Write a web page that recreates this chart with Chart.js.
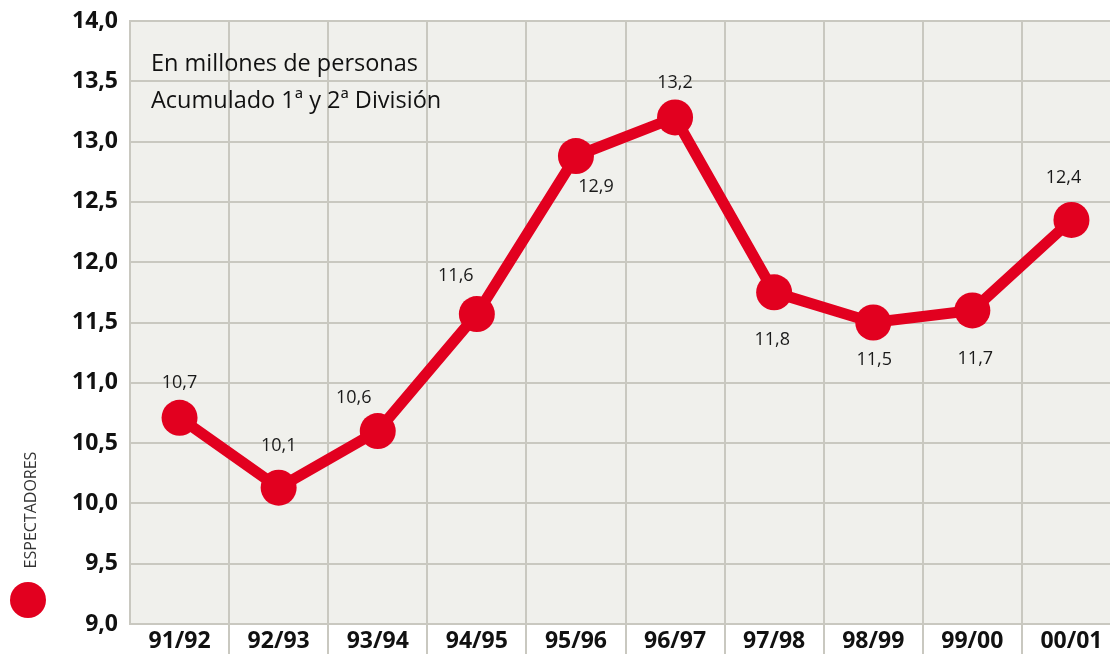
<!DOCTYPE html>
<html>
<head>
<meta charset="utf-8">
<script src="https://cdn.jsdelivr.net/npm/chart.js@4.4.1/dist/chart.umd.min.js"></script>
<style>
html,body{margin:0;padding:0;background:#fff;overflow:hidden;}
#c{display:block;}
</style>
</head>
<body>
<canvas id="c" width="1121" height="654" style="width:1121px;height:654px"></canvas>
<script>
const categories = ['91/92','92/93','93/94','94/95','95/96','96/97','97/98','98/99','99/00','00/01'];
const espectadores = [10.71, 10.13, 10.6, 11.57, 12.88, 13.2, 11.75, 11.5, 11.6, 12.35];
const valueLabels = ['10,7','10,1','10,6','11,6','12,9','13,2','11,8','11,5','11,7','12,4'];
const yTicks = [9.0, 9.5, 10.0, 10.5, 11.0, 11.5, 12.0, 12.5, 13.0, 13.5, 14.0];
const noteLines = ['En millones de personas', 'Acumulado 1ª y 2ª División'];
const legendLabel = 'ESPECTADORES';

const labelOffsets = [[0,-35],[0,-42],[-24,-33],[-21,-38],[20,31],[0,-35],[-2,48],[1,37],[3,48],[-8,-42]];

const RED = '#e2001f';
const GRID = '#c9c8c0';

const bgPlugin = {
  id: 'bg',
  beforeDraw(chart) {
    const {ctx, chartArea: a} = chart;
    ctx.save();
    ctx.fillStyle = '#f0f0ec';
    ctx.fillRect(a.left, a.top, a.right - a.left, a.bottom - a.top);
    ctx.restore();
  }
};

const extrasPlugin = {
  id: 'extras',
  afterDatasetsDraw(chart) {
    const {ctx, chartArea: a} = chart;
    const meta = chart.getDatasetMeta(0);
    ctx.save();
    ctx.fillStyle = '#1a1a1a';
    ctx.font = '18px "Open Sans"';
    ctx.textAlign = 'center';
    ctx.textBaseline = 'middle';
    meta.data.forEach((pt, i) => {
      const [dx, dy] = labelOffsets[i];
      ctx.fillText(valueLabels[i], pt.x + dx, pt.y + dy);
    });
    ctx.textAlign = 'left';
    ctx.textBaseline = 'alphabetic';
    ctx.font = '23.5px "Open Sans"';
    ctx.fillStyle = '#111';
    ctx.fillText(noteLines[0], a.left + 21, 71);
    ctx.fillText(noteLines[1], a.left + 21, 108);
    ctx.fillStyle = RED;
    ctx.beginPath();
    ctx.arc(28, 600, 18, 0, Math.PI * 2);
    ctx.fill();
    ctx.save();
    ctx.translate(31, 510);
    ctx.rotate(-Math.PI / 2);
    ctx.fillStyle = '#333';
    ctx.font = '16px "Open Sans"';
    ctx.textAlign = 'center';
    ctx.textBaseline = 'middle';
    ctx.fillText(legendLabel, 0, 0);
    ctx.restore();
    ctx.restore();
  }
};

new Chart(document.getElementById('c'), {
  type: 'line',
  data: {
    labels: categories,
    datasets: [{
      data: espectadores,
      borderColor: RED,
      backgroundColor: RED,
      borderWidth: 11,
      pointRadius: 18,
      pointHoverRadius: 18,
      pointBackgroundColor: RED,
      pointBorderWidth: 0,
      tension: 0,
      clip: false
    }]
  },
  options: {
    responsive: false,
    animation: false,
    events: [],
    layout: {autoPadding: false, padding: {top: 21, right: 0, bottom: 0, left: 0}},
    plugins: {legend: {display: false}, tooltip: {enabled: false}},
    scales: {
      x: {
        type: 'category',
        offset: true,
        afterFit(s) { s.height = 30; s.paddingLeft = 0; s.paddingRight = 0; },
        grid: {
          offset: true,
          color: GRID,
          lineWidth: 2,
          drawTicks: true,
          tickLength: 30,
          tickColor: (c) => (c.index === 0 ? 'rgba(0,0,0,0)' : GRID)
        },
        border: {display: true, color: GRID, width: 2},
        ticks: {
          color: '#111',
          font: {family: '"Open Sans"', size: 23, weight: 'bold'},
          padding: -26,
          maxRotation: 0,
          autoSkip: false
        }
      },
      y: {
        min: 9, max: 14,
        afterFit(s) { s.width = 130; s.paddingTop = 0; s.paddingBottom = 0; },
        afterBuildTicks(s) { s.ticks = yTicks.map(v => ({value: v})); },
        grid: {color: GRID, lineWidth: 2, drawTicks: false},
        border: {display: true, color: GRID, width: 2},
        ticks: {
          color: '#111',
          padding: 12,
          font: {family: '"Open Sans"', size: 23, weight: 'bold'},
          callback: (v) => v.toFixed(1).replace('.', ',')
        }
      }
    }
  },
  plugins: [bgPlugin, extrasPlugin]
});
</script>
</body>
</html>
